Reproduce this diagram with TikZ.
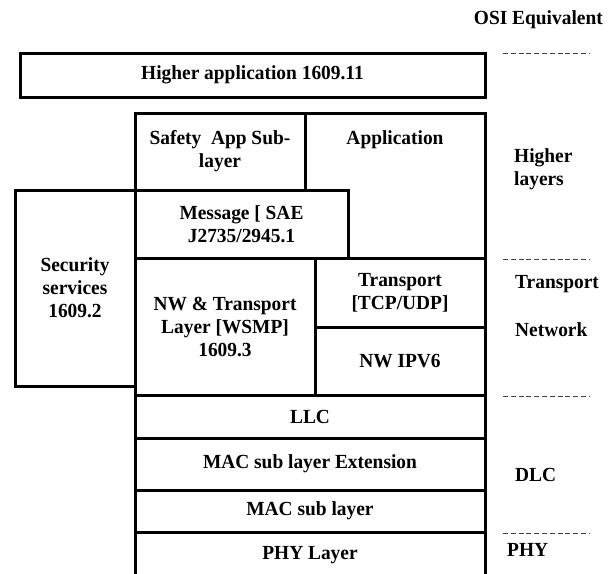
\documentclass[tikz,border=0pt]{standalone}
\usepackage{fontspec}
\setmainfont{Liberation Serif}[FakeStretch=0.97]
\begin{document}
\begin{tikzpicture}[x=1pt,y=-1pt,
  box/.style={draw, line width=3pt, fill=white, inner sep=0pt, outer sep=0pt, align=center, font=\txt},
  lbl/.style={inner sep=0pt, align=left, anchor=west, font=\txt},
  osi/.style={draw=black!75, line width=0.9pt, dash pattern=on 5pt off 2.8pt}]
\newcommand{\txt}{\bfseries\fontsize{20}{23}\selectfont}
\useasboundingbox (0,0) rectangle (612,573);
\clip (0,0) rectangle (612,573);
% boxes
\node[box, minimum width=465pt, minimum height=44pt] (happ) at (252.5,75) {Higher application 1609.11};
\node[box, minimum width=180pt, minimum height=145pt] (app) at (395,185.5) {};
\node[lbl, anchor=center, align=center] (applbl) at (395,140) {Application};
\node[box, minimum width=170pt, minimum height=77pt] (safety) at (220,151.5) {Safety~ App Sub-\\layer};
\node[box, minimum width=213pt, minimum height=68pt] (msg) at (241.5,224) {Message [ SAE\\J2735/2945.1};
\node[box, minimum width=120pt, minimum height=196pt] (sec) at (75,288) {Security\\services\\1609.2};
\node[box, minimum width=180pt, minimum height=137pt] (nwt) at (225,326.5) {NW \& Transport\\Layer [WSMP]\\1609.3};
\node[box, minimum width=170pt, minimum height=69pt] (tr) at (400,292.5) {Transport\\{}[TCP/UDP]};
\node[box, minimum width=170pt, minimum height=68pt] (ipv6) at (400,361) {NW IPV6};
\node[box, minimum width=350pt, minimum height=43pt] (llc) at (310,416.5) {LLC};
\node[box, minimum width=350pt, minimum height=52pt] (macx) at (310,464) {MAC sub layer Extension};
\node[box, minimum width=350pt, minimum height=42pt] (mac) at (310,511) {MAC sub layer};
\node[box, minimum width=350pt, minimum height=46pt] (phy) at (310,555) {PHY Layer};
% OSI column
\node[lbl, anchor=east] (osit) at (603,20) {OSI Equivalent};
\coordinate (d1a) at (503,53);  \coordinate (d1b) at (589,53);
\coordinate (d2a) at (503,259); \coordinate (d2b) at (589,259);
\coordinate (d3a) at (503,396); \coordinate (d3b) at (589,396);
\coordinate (d4a) at (503,533); \coordinate (d4b) at (589,533);
\draw[osi] (d1a) -- (d1b);
\draw[osi] (d2a) -- (d2b);
\draw[osi] (d3a) -- (d3b);
\draw[osi] (d4a) -- (d4b);
\node[lbl] (hl) at (514,169.5) {Higher\\layers};
\node[lbl] (tl) at (515,284) {Transport};
\node[lbl] (nl) at (515,330) {Network};
\node[lbl] (dl) at (515,475) {DLC};
\node[lbl] (pl) at (507,550) {PHY};
\end{tikzpicture}
\end{document}
